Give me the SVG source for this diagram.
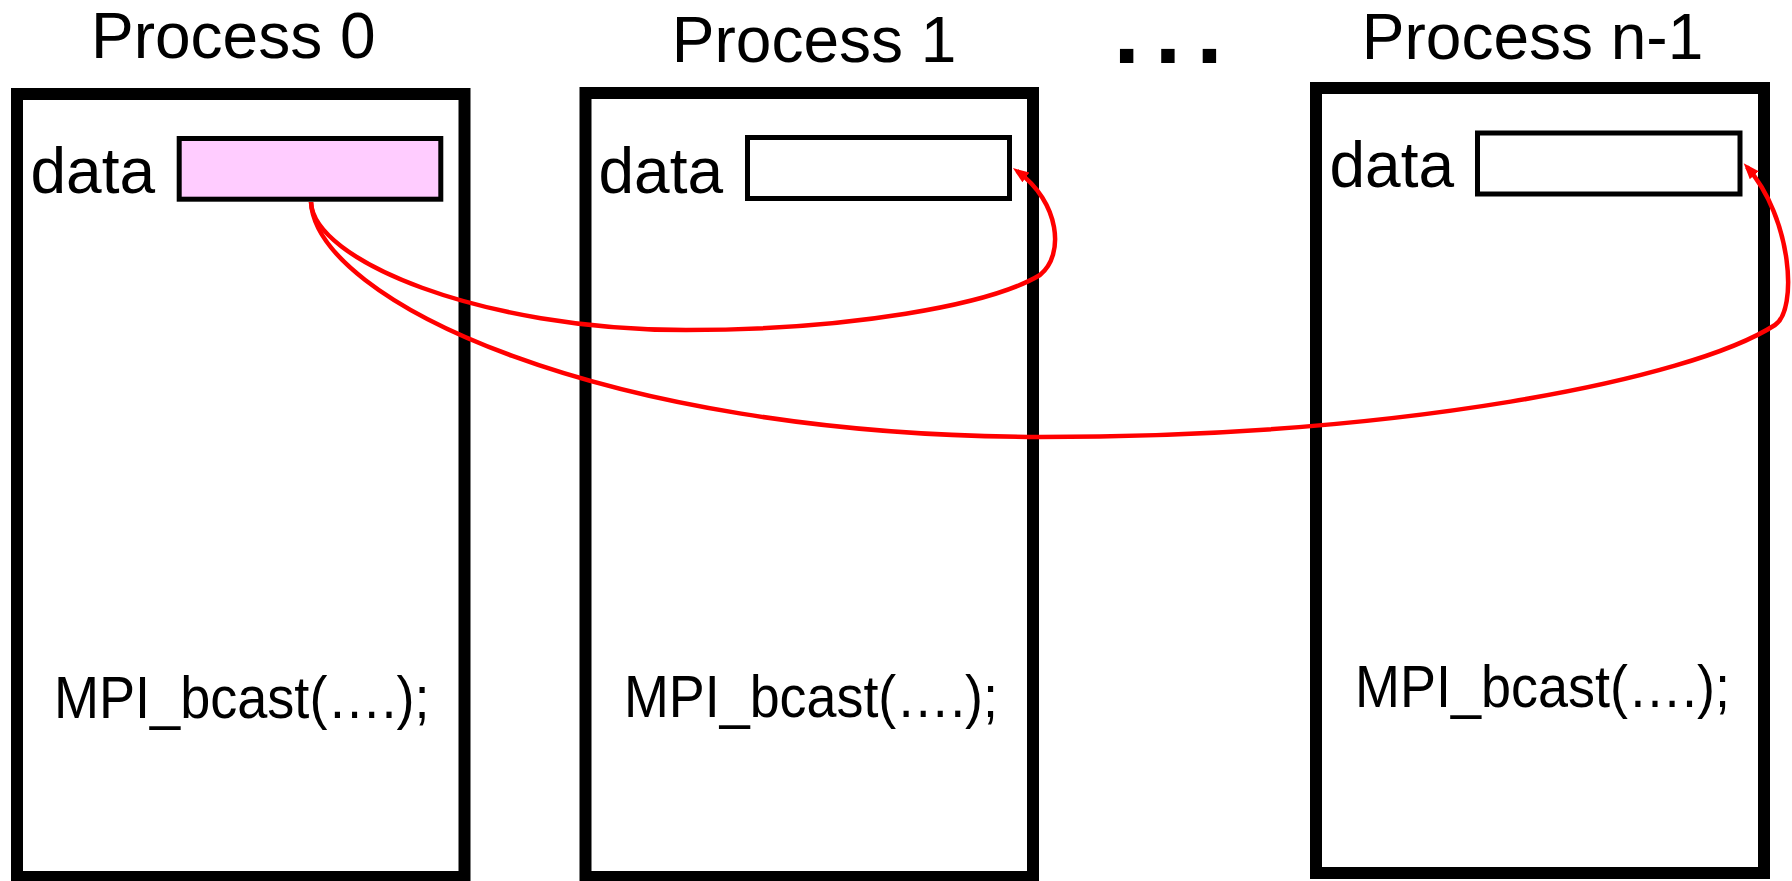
<svg xmlns="http://www.w3.org/2000/svg" width="1792" height="881" viewBox="0 0 1792 881">
  <style>
    .proc { fill: #ffffff; stroke: #000000; stroke-width: 12; }
    .buf { stroke: #000000; stroke-width: 5; }
    .title { font-family: "Liberation Sans", Arial, sans-serif; font-size: 64px; fill: #000000; }
    .lbl { font-family: "Liberation Sans", Arial, sans-serif; font-size: 64px; fill: #000000; }
    .code { font-family: "Liberation Sans", Arial, sans-serif; font-size: 60px; fill: #000000; }
    .dots { font-family: "Liberation Sans", Arial, sans-serif; font-size: 95px; font-weight: bold; fill: #000000; letter-spacing: 15px; }
    .conn { fill: none; stroke: #ff0000; stroke-width: 4.5; }
  </style>
  <defs>
    <marker id="arrow" markerUnits="userSpaceOnUse" markerWidth="18" markerHeight="14" refX="11" refY="6" orient="auto">
      <path d="M0,0 L16,6 L0,12 Z" fill="#ff0000"/>
    </marker>
  </defs>
  <rect width="1792" height="881" fill="#ffffff"/>

  <g id="process0">
    <text class="title" x="91" y="58.3">Process 0</text>
    <rect class="proc" x="17" y="94" width="447.5" height="783"/>
    <text class="lbl" x="30.5" y="193.3">data</text>
    <rect class="buf" x="179.2" y="138.5" width="261.6" height="60.7" fill="#ffccff"/>
    <text class="code" x="54" y="718.3" textLength="375.5" lengthAdjust="spacingAndGlyphs">MPI_bcast(….);</text>
  </g>

  <g id="process1">
    <text class="title" x="671.8" y="61.7">Process 1</text>
    <rect class="proc" x="585.5" y="93" width="447.5" height="784"/>
    <text class="lbl" x="598.5" y="192.7">data</text>
    <rect class="buf" x="747.5" y="137.5" width="262" height="61" fill="#ffffff"/>
    <text class="code" x="624" y="717.3" textLength="374" lengthAdjust="spacingAndGlyphs">MPI_bcast(….);</text>
  </g>

  <g id="ellipsis">
    <text class="dots" x="1113.4" y="63">...</text>
  </g>

  <g id="processN">
    <text class="title" x="1361.8" y="59.3">Process n-1</text>
    <rect class="proc" x="1316" y="88" width="448" height="785"/>
    <text class="lbl" x="1329.5" y="186.7">data</text>
    <rect class="buf" x="1477.5" y="133" width="262.5" height="61" fill="#ffffff"/>
    <text class="code" x="1355" y="707.3" textLength="375" lengthAdjust="spacingAndGlyphs">MPI_bcast(….);</text>
  </g>

  <g id="connectors">
    <path class="conn" marker-end="url(#arrow)" d="M311,202 C313,260 480,330 686,330 C850,330 990,305 1040,275 C1065,255 1060,202 1017,171"/>
    <path class="conn" marker-end="url(#arrow)" d="M311,202 C316,300 600,436 1040,437 C1400,437 1690,380 1775,325 C1798,310 1792,218 1747,167"/>
  </g>
</svg>
